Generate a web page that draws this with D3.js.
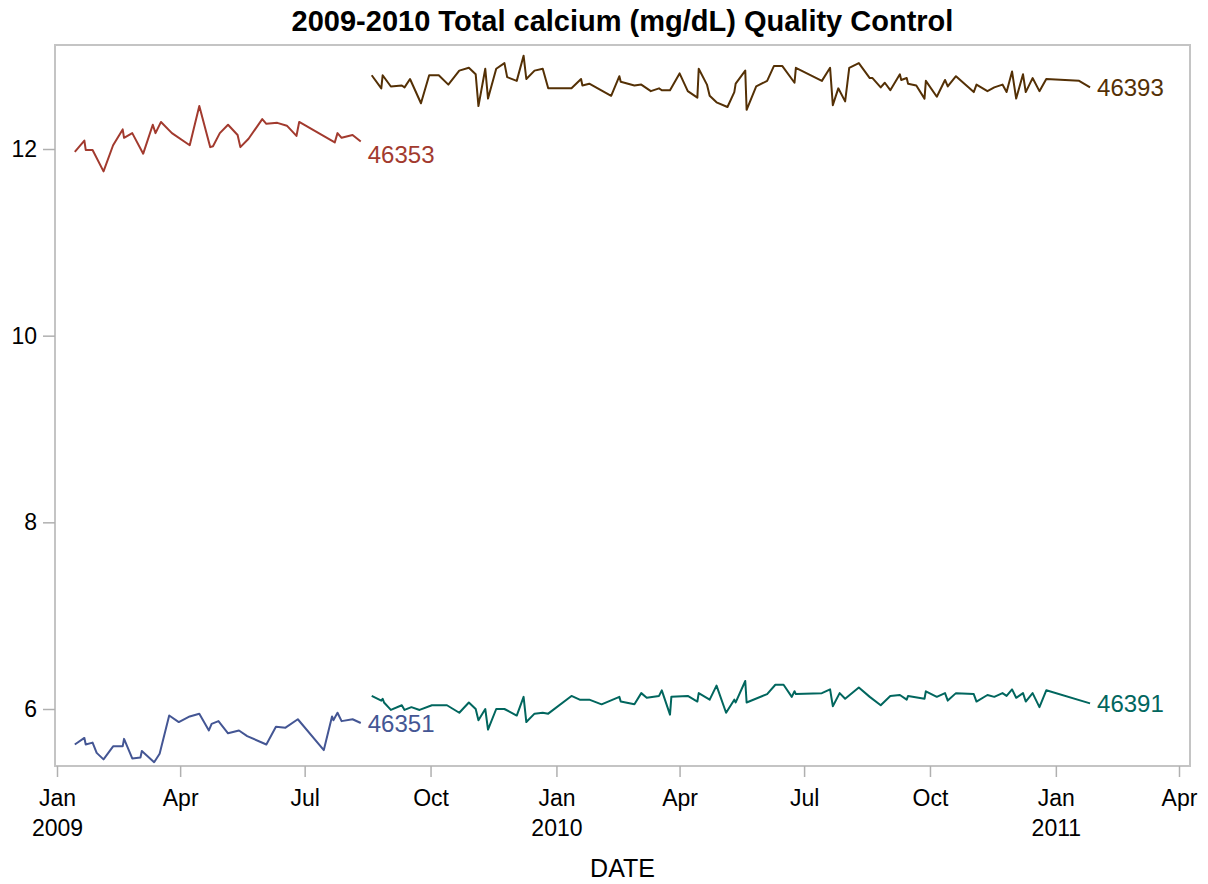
<!DOCTYPE html>
<html>
<head>
<meta charset="utf-8">
<script src="https://cdn.jsdelivr.net/npm/d3@7"></script>
<style>
  body { margin: 0; background: #fff; }
  svg text { font-family: "Liberation Sans", Arial, sans-serif; }
</style>
</head>
<body>
<div id="chart"></div>
<script>
// Series ids (lot numbers) and their line colours
const seriesIds = ['46351', '46353', '46391', '46393'];
const seriesColors = ['#445694', '#A23A2E', '#01665E', '#543005'];

// Lot 46351 (low control, 2009)
const dates46351 = ['2009-01-14','2009-01-21','2009-01-22','2009-01-27','2009-01-30','2009-02-04','2009-02-11','2009-02-18','2009-02-19','2009-02-25',
  '2009-03-03','2009-03-04','2009-03-13','2009-03-17','2009-03-24','2009-03-31','2009-04-08','2009-04-15','2009-04-22','2009-04-24',
  '2009-04-29','2009-05-06','2009-05-14','2009-05-20','2009-06-03','2009-06-10','2009-06-17','2009-06-26','2009-07-15','2009-07-21',
  '2009-07-22','2009-07-25','2009-07-28','2009-08-05','2009-08-11'];
const values46351 = [5.62,5.69,5.62,5.64,5.53,5.46,5.60,5.60,5.68,5.47,
  5.48,5.55,5.43,5.52,5.93,5.86,5.92,5.95,5.77,5.84,
  5.87,5.74,5.77,5.71,5.62,5.81,5.80,5.89,5.56,5.92,
  5.88,5.96,5.87,5.89,5.85];

// Lot 46353 (high control, 2009)
const dates46353 = ['2009-01-14','2009-01-21','2009-01-22','2009-01-27','2009-02-04','2009-02-11','2009-02-18','2009-02-19','2009-02-25','2009-03-05',
  '2009-03-12','2009-03-14','2009-03-18','2009-03-26','2009-04-08','2009-04-15','2009-04-23','2009-04-25','2009-04-30','2009-05-06',
  '2009-05-13','2009-05-15','2009-05-21','2009-05-31','2009-06-03','2009-06-11','2009-06-18','2009-06-25','2009-06-27','2009-07-23',
  '2009-07-25','2009-07-28','2009-08-05','2009-08-11'];
const values46353 = [11.97,12.09,11.99,11.99,11.76,12.04,12.21,12.12,12.17,11.95,
  12.26,12.17,12.29,12.17,12.04,12.46,12.02,12.03,12.17,12.26,
  12.15,12.02,12.11,12.32,12.27,12.28,12.25,12.14,12.29,12.07,
  12.17,12.12,12.15,12.08];

// Lot 46391 (low control, 2009-2011)
const dates46391 = ['2009-08-19','2009-08-26','2009-08-27','2009-08-28','2009-09-02','2009-09-10','2009-09-12','2009-09-17','2009-09-23','2009-10-02',
  '2009-10-13','2009-10-22','2009-10-29','2009-11-03','2009-11-05','2009-11-10','2009-11-12','2009-11-18','2009-11-24','2009-12-03',
  '2009-12-08','2009-12-10','2009-12-16','2009-12-22','2009-12-26','2010-01-12','2010-01-18','2010-01-25','2010-02-03','2010-02-16',
  '2010-02-17','2010-02-27','2010-03-04','2010-03-08','2010-03-17','2010-03-19','2010-03-25','2010-03-26','2010-04-07','2010-04-14',
  '2010-04-15','2010-04-23','2010-04-28','2010-05-05','2010-05-11','2010-05-12','2010-05-19','2010-05-20','2010-06-04','2010-06-10',
  '2010-06-16','2010-06-22','2010-06-24','2010-06-25','2010-07-14','2010-07-20','2010-07-22','2010-07-27','2010-07-31','2010-08-10',
  '2010-08-18','2010-08-26','2010-09-02','2010-09-09','2010-09-14','2010-09-15','2010-09-27','2010-09-28','2010-10-06','2010-10-12',
  '2010-10-14','2010-10-20','2010-11-02','2010-11-04','2010-11-12','2010-11-17','2010-11-23','2010-11-26','2010-11-30','2010-12-03',
  '2010-12-08','2010-12-10','2010-12-15','2010-12-20','2010-12-25','2011-01-26'];
const values46391 = [6.14,6.09,6.11,6.07,5.99,6.04,5.99,6.02,5.99,6.04,
  6.04,5.96,6.07,6.00,5.88,6.00,5.78,6.00,6.00,5.93,
  6.13,5.86,5.95,5.96,5.95,6.14,6.10,6.10,6.05,6.13,
  6.08,6.05,6.17,6.12,6.14,6.20,5.94,6.13,6.14,6.08,
  6.17,6.10,6.25,5.96,6.10,6.07,6.30,6.07,6.16,6.26,
  6.26,6.13,6.19,6.16,6.17,6.21,6.03,6.17,6.11,6.23,
  6.13,6.04,6.14,6.15,6.10,6.14,6.11,6.19,6.13,6.17,
  6.09,6.17,6.16,6.08,6.15,6.13,6.17,6.14,6.21,6.12,
  6.17,6.08,6.17,6.02,6.20,6.06];

// Lot 46393 (high control, 2009-2011)
const dates46393 = ['2009-08-19','2009-08-26','2009-08-27','2009-09-02','2009-09-10','2009-09-12','2009-09-16','2009-09-24','2009-09-30','2009-10-07',
  '2009-10-14','2009-10-22','2009-10-29','2009-11-03','2009-11-05','2009-11-10','2009-11-12','2009-11-18','2009-11-24','2009-11-26',
  '2009-12-03','2009-12-08','2009-12-10','2009-12-16','2009-12-22','2009-12-26','2010-01-12','2010-01-19','2010-01-20','2010-01-25',
  '2010-02-10','2010-02-16','2010-02-17','2010-02-27','2010-03-04','2010-03-11','2010-03-17','2010-03-19','2010-03-25','2010-04-01',
  '2010-04-07','2010-04-14','2010-04-15','2010-04-21','2010-04-23','2010-04-28','2010-05-06','2010-05-11','2010-05-12','2010-05-19',
  '2010-05-20','2010-05-27','2010-06-04','2010-06-09','2010-06-15','2010-06-24','2010-06-25','2010-07-14','2010-07-20','2010-07-22',
  '2010-07-26','2010-07-31','2010-08-03','2010-08-10','2010-08-18','2010-08-20','2010-08-26','2010-08-29','2010-09-02','2010-09-09',
  '2010-09-10','2010-09-14','2010-09-15','2010-09-21','2010-09-27','2010-09-28','2010-10-06','2010-10-12','2010-10-14','2010-10-20',
  '2010-11-02','2010-11-04','2010-11-12','2010-11-17','2010-11-23','2010-11-26','2010-11-30','2010-12-03','2010-12-08','2010-12-10',
  '2010-12-15','2010-12-20','2010-12-25','2011-01-18','2011-01-26'];
const values46393 = [12.79,12.65,12.79,12.67,12.68,12.66,12.75,12.49,12.79,12.79,
  12.69,12.84,12.87,12.80,12.46,12.86,12.54,12.86,12.92,12.77,
  12.73,13.00,12.75,12.84,12.86,12.65,12.65,12.75,12.68,12.70,
  12.57,12.78,12.72,12.68,12.69,12.62,12.65,12.63,12.63,12.81,
  12.62,12.55,12.86,12.69,12.57,12.50,12.45,12.61,12.70,12.84,
  12.42,12.67,12.73,12.89,12.89,12.71,12.87,12.73,12.87,12.47,
  12.65,12.51,12.87,12.92,12.76,12.76,12.66,12.71,12.63,12.80,
  12.74,12.76,12.70,12.68,12.54,12.73,12.56,12.74,12.67,12.78,
  12.61,12.69,12.62,12.66,12.69,12.61,12.83,12.54,12.80,12.61,
  12.76,12.62,12.75,12.73,12.66];

// Axis tick values
const yTicks = [6, 8, 10, 12];
const xTickDates = ['2009-01-01','2009-04-01','2009-07-01','2009-10-01','2010-01-01','2010-04-01','2010-07-01','2010-10-01','2011-01-01','2011-04-01'];

const parseDate = d3.timeParse('%Y-%m-%d');
const allDates = [dates46351, dates46353, dates46391, dates46393];
const allValues = [values46351, values46353, values46391, values46393];

const width = 1208, height = 884;
const frame = { left: 55, right: 1190, top: 45, bottom: 766 };

const svg = d3.select('#chart').append('svg')
    .attr('width', width)
    .attr('height', height);

// Scales
const x = d3.scaleTime()
    .domain([parseDate('2009-01-01'), parseDate('2011-04-01')])
    .range([57, 1179]);

const y = d3.scaleLinear()
    .domain([6 - 57 / 93.333, 6 + 664 / 93.333])
    .range([frame.bottom, frame.top]);

// Title
svg.append('text')
    .attr('x', (frame.left + frame.right) / 2)
    .attr('y', 31)
    .attr('text-anchor', 'middle')
    .style('font-size', '29px')
    .style('font-weight', 'bold')
    .style('fill', '#000')
    .text('2009-2010 Total calcium (mg/dL) Quality Control');

// Plot frame
svg.append('rect')
    .attr('x', frame.left)
    .attr('y', frame.top)
    .attr('width', frame.right - frame.left)
    .attr('height', frame.bottom - frame.top)
    .attr('fill', 'none')
    .attr('stroke', '#c4c4c4')
    .attr('stroke-width', 2);

// Y axis
const yAxis = svg.append('g')
    .attr('transform', 'translate(' + frame.left + ',0)')
    .call(d3.axisLeft(y).tickValues(yTicks).tickSize(12).tickPadding(6).tickFormat(d3.format('d')));
yAxis.select('.domain').remove();
yAxis.selectAll('.tick line').attr('stroke', '#b0b0b0').attr('stroke-width', 1.5);
yAxis.selectAll('.tick text')
    .style('font-size', '23px')
    .style('fill', '#000');

// X axis
const xAxis = svg.append('g')
    .attr('transform', 'translate(0,' + frame.bottom + ')')
    .call(d3.axisBottom(x).tickValues(xTickDates.map(parseDate)).tickSize(11).tickFormat(''));
xAxis.select('.domain').remove();
xAxis.selectAll('.tick line').attr('stroke', '#b0b0b0').attr('stroke-width', 1.5);

xAxis.selectAll('.tick').each(function(d) {
    const t = d3.select(this).append('text')
        .attr('text-anchor', 'middle')
        .style('font-size', '23px')
        .style('fill', '#000');
    t.append('tspan').attr('x', 0).attr('y', 40).text(d3.timeFormat('%b')(d));
    if (d.getMonth() === 0) {
        t.append('tspan').attr('x', 0).attr('y', 70).text(d3.timeFormat('%Y')(d));
    }
});

// X axis label
svg.append('text')
    .attr('x', (frame.left + frame.right) / 2)
    .attr('y', 877)
    .attr('text-anchor', 'middle')
    .style('font-size', '25px')
    .style('fill', '#000')
    .text('DATE');

// Lines and end labels
const line = d3.line()
    .x(d => x(d.date))
    .y(d => y(d.value));

// Red label is pushed down to avoid the brown series
const labelShift = { '46353': 13 };

seriesIds.forEach(function(id, i) {
    const points = allDates[i].map((ds, j) => ({ date: parseDate(ds), value: allValues[i][j] }));

    svg.append('path')
        .datum(points)
        .attr('d', line)
        .attr('fill', 'none')
        .attr('stroke', seriesColors[i])
        .attr('stroke-width', 2)
        .attr('stroke-linejoin', 'round');

    const last = points[points.length - 1];
    svg.append('text')
        .attr('x', x(last.date) + 7)
        .attr('y', y(last.value) + (labelShift[id] || 0))
        .attr('dy', '0.36em')
        .style('font-size', '24px')
        .style('fill', seriesColors[i])
        .text(id);
});
</script>
</body>
</html>
